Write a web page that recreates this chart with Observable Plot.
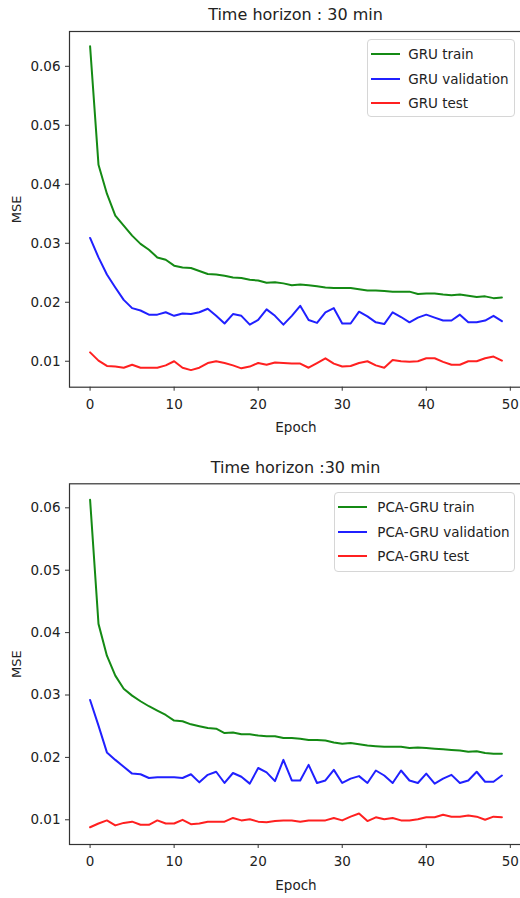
<!DOCTYPE html>
<html><head><meta charset="utf-8">
<script src="https://cdn.jsdelivr.net/npm/d3@7"></script>
<script src="https://cdn.jsdelivr.net/npm/@observablehq/plot@0.6"></script>
<style>
body{margin:0;background:#fff;}
#wrap{position:relative;width:520px;height:898px;overflow:hidden;font-family:"DejaVu Sans",sans-serif;color:#222;}
.panel{position:absolute;left:0;}
.title{position:absolute;left:0;width:591px;text-align:center;font-size:16px;line-height:20px;color:#222;}
.legend{position:absolute;border:1px solid #d6d6d6;border-radius:4px;background:rgba(255,255,255,0.85);font-size:13.5px;box-sizing:border-box;}
.row{display:flex;align-items:center;height:24.4px;white-space:nowrap;}
.sw{height:2px;flex:none;}
</style>
</head><body>
<div id="wrap"></div>
<script>
const epochs = [0,1,2,3,4,5,6,7,8,9,10,11,12,13,14,15,16,17,18,19,20,21,22,23,24,25,26,27,28,29,30,31,32,33,34,35,36,37,38,39,40,41,42,43,44,45,46,47,48,49];
const xTicks = [0,10,20,30,40,50];
const yTicks = [0.01,0.02,0.03,0.04,0.05,0.06];
const colors = ["#148a14","#2020ff","#ff2020"];

const titleTop = "Time horizon : 30 min";
const titleBottom = "Time horizon :30 min";
const namesTop = ["GRU train","GRU validation","GRU test"];
const namesBottom = ["PCA-GRU train","PCA-GRU validation","PCA-GRU test"];

const gruTrain = [0.0634,0.0433,0.0384,0.0347,0.0330,0.0313,0.0299,0.0289,0.0276,0.0272,0.0262,0.0259,0.0258,0.0253,0.0248,0.0247,0.0245,0.0242,0.0241,0.0238,0.0237,0.0233,0.0234,0.0232,0.0229,0.0230,0.0229,0.0227,0.0225,0.0224,0.0224,0.0224,0.0222,0.0220,0.0220,0.0219,0.0218,0.0218,0.0218,0.0214,0.0215,0.0215,0.0213,0.0212,0.0213,0.0211,0.0209,0.0210,0.0207,0.0208];
const gruVal = [0.0309,0.0276,0.0247,0.0225,0.0204,0.0190,0.0186,0.0179,0.0179,0.0183,0.0177,0.0181,0.0180,0.0183,0.0189,0.0177,0.0164,0.0180,0.0177,0.0162,0.0170,0.0188,0.0177,0.0162,0.0177,0.0194,0.0170,0.0165,0.0183,0.0190,0.0164,0.0164,0.0184,0.0176,0.0166,0.0163,0.0183,0.0175,0.0166,0.0174,0.0179,0.0174,0.0169,0.0169,0.0179,0.0166,0.0166,0.0169,0.0177,0.0168];
const gruTest = [0.0115,0.0101,0.0092,0.0091,0.0089,0.0094,0.0089,0.0089,0.0089,0.0093,0.0100,0.0089,0.0085,0.0089,0.0097,0.0100,0.0097,0.0093,0.0088,0.0091,0.0097,0.0094,0.0098,0.0097,0.0096,0.0096,0.0089,0.0097,0.0105,0.0096,0.0091,0.0092,0.0097,0.0100,0.0093,0.0089,0.0102,0.0100,0.0099,0.0100,0.0105,0.0105,0.0099,0.0094,0.0094,0.0100,0.0100,0.0105,0.0108,0.0101];

const pcaTrain = [0.0613,0.0414,0.0363,0.0331,0.0310,0.0299,0.0290,0.0282,0.0275,0.0268,0.0259,0.0258,0.0253,0.0250,0.0247,0.0246,0.0239,0.0240,0.0237,0.0237,0.0235,0.0234,0.0234,0.0231,0.0231,0.0230,0.0228,0.0228,0.0227,0.0224,0.0222,0.0223,0.0221,0.0219,0.0218,0.0217,0.0217,0.0217,0.0215,0.0216,0.0215,0.0214,0.0213,0.0212,0.0211,0.0209,0.0210,0.0207,0.0206,0.0206];
const pcaVal = [0.0292,0.0251,0.0208,0.0196,0.0185,0.0174,0.0173,0.0167,0.0168,0.0168,0.0168,0.0167,0.0173,0.0160,0.0172,0.0177,0.0159,0.0175,0.0169,0.0158,0.0183,0.0176,0.0162,0.0196,0.0163,0.0163,0.0188,0.0159,0.0163,0.0180,0.0159,0.0166,0.0170,0.0159,0.0179,0.0171,0.0159,0.0179,0.0163,0.0159,0.0174,0.0158,0.0166,0.0172,0.0159,0.0163,0.0177,0.0161,0.0161,0.0171];
const pcaTest = [0.0088,0.0094,0.0099,0.0091,0.0095,0.0097,0.0092,0.0092,0.0099,0.0094,0.0094,0.0100,0.0093,0.0094,0.0097,0.0097,0.0097,0.0103,0.0099,0.0101,0.0097,0.0096,0.0098,0.0099,0.0099,0.0097,0.0099,0.0099,0.0099,0.0103,0.0099,0.0105,0.0110,0.0098,0.0104,0.0101,0.0103,0.0099,0.0099,0.0101,0.0104,0.0104,0.0108,0.0105,0.0105,0.0107,0.0105,0.0100,0.0105,0.0104];

function makePanel(names, series, yDomain, height, marginTop, marginBottom) {
  const rows = [];
  series.forEach((vals, i) => vals.forEach((v, j) => rows.push({epoch: epochs[j], value: v, name: names[i]})));
  return Plot.plot({
    width: 520, height, marginLeft: 69, marginRight: -2, marginTop, marginBottom,
    style: {fontFamily: "DejaVu Sans", fontSize: "13px", color: "#222", background: "transparent", overflow: "visible"},
    x: {domain: [-2.45, 51.45]},
    y: {domain: yDomain},
    color: {domain: names, range: colors},
    marks: [
      Plot.axisY({ticks: yTicks, tickFormat: d3.format(".2f"), tickSize: 4, tickPadding: 5, stroke: "#333", fontSize: 13.5,
        label: null}),
      Plot.axisY({ticks: [], tickSize: 0, label: "MSE", labelAnchor: "center", labelArrow: "none", labelOffset: 58, fontSize: 13}),
      Plot.axisX({ticks: xTicks, tickSize: 4, tickPadding: 8, stroke: "#333", fontSize: 13.5, label: null}),
      Plot.axisX({ticks: [], tickSize: 0, label: "Epoch", labelAnchor: "center", labelArrow: "none", labelOffset: 45, fontSize: 13.5}),
      Plot.line(rows, {x: "epoch", y: "value", z: "name", stroke: "name", strokeWidth: 2}),
      Plot.frame({stroke: "#333", strokeWidth: 1.2})
    ]
  });
}

const wrap = document.getElementById("wrap");

function addPanel(top, svg) {
  svg.classList.add("panel");
  svg.style.top = top + "px";
  svg.style.position = "absolute";
  wrap.appendChild(svg);
}
function addTitle(text, top) {
  const d = document.createElement("div");
  d.className = "title"; d.textContent = text; d.style.top = top + "px";
  wrap.appendChild(d);
}
function addLegend(names, left, top, width, height, swLeft, swWidth, gap) {
  const box = document.createElement("div");
  box.className = "legend";
  Object.assign(box.style, {left: left + "px", top: top + "px", width: width + "px", height: height + "px", paddingTop: "2px"});
  names.forEach((n, i) => {
    const r = document.createElement("div"); r.className = "row";
    const s = document.createElement("div"); s.className = "sw";
    Object.assign(s.style, {width: swWidth + "px", background: colors[i], marginLeft: swLeft + "px", marginRight: gap + "px"});
    const t = document.createElement("span"); t.textContent = n;
    r.appendChild(s); r.appendChild(t); box.appendChild(r);
  });
  wrap.appendChild(box);
}

addPanel(0, makePanel(namesTop, [gruTrain, gruVal, gruTest], [0.0056, 0.0659], 440, 31, 53.3));
addPanel(450, makePanel(namesBottom, [pcaTrain, pcaVal, pcaTest], [0.00604, 0.06385], 448, 33.3, 54));
addTitle(titleTop, 5);
addTitle(titleBottom, 458);
addLegend(namesTop, 366.7, 39.3, 148.5, 78, 3.5, 29, 8);
addLegend(namesBottom, 334.3, 492.3, 181, 79.5, 3, 29, 10);
</script>
</body></html>
